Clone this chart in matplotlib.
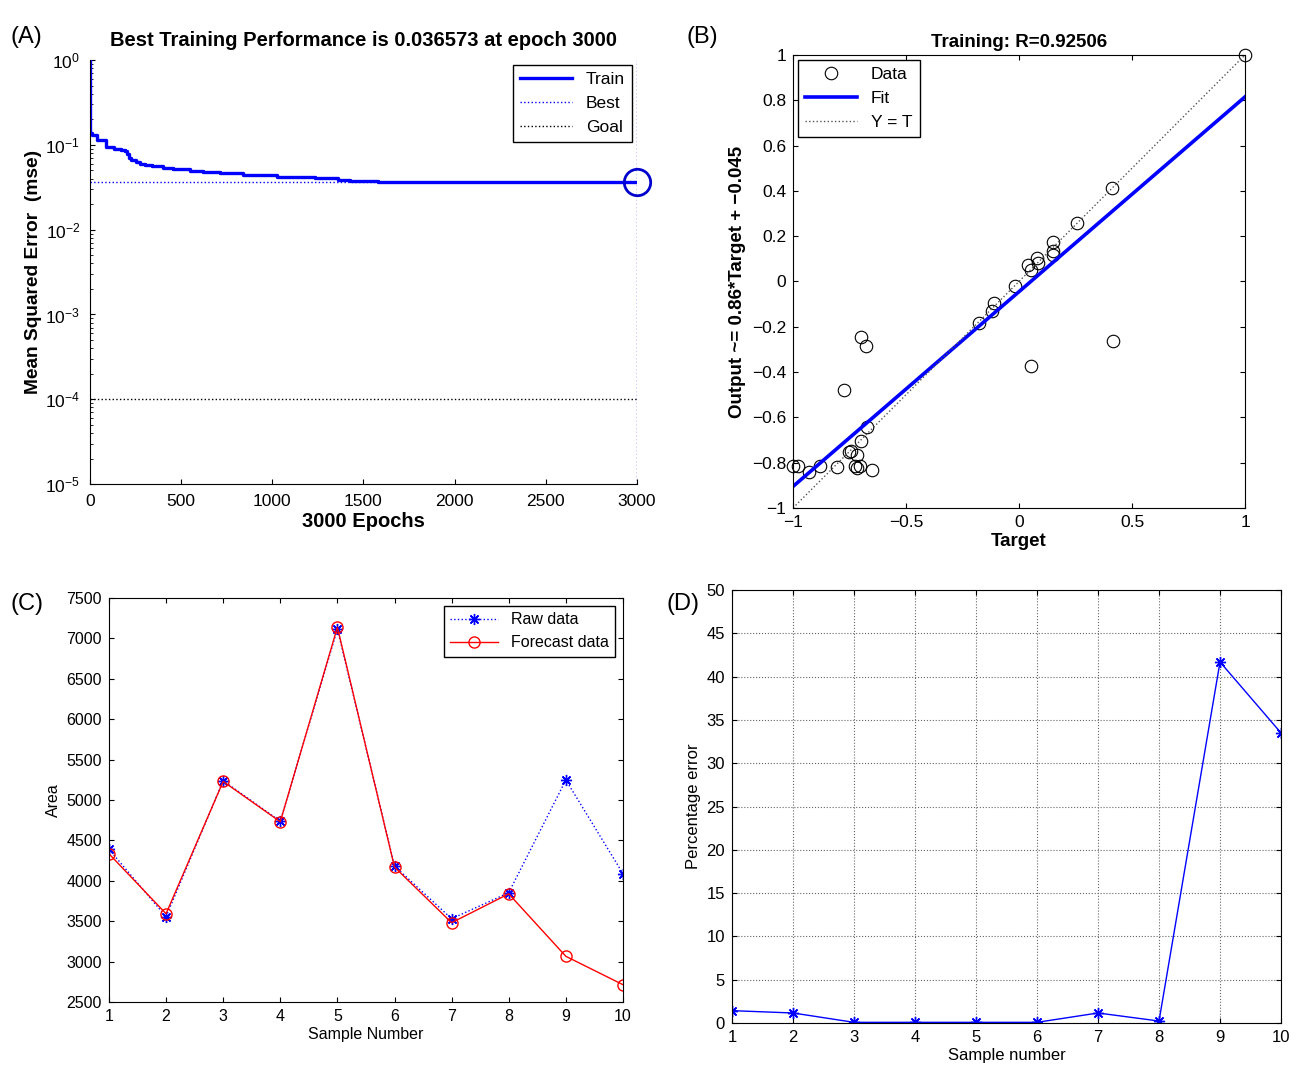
import numpy as np
import matplotlib
matplotlib.use("Agg")
import matplotlib.pyplot as plt

plt.rcParams['font.family'] = ['Liberation Sans', 'DejaVu Sans']
plt.rcParams['xtick.direction'] = 'in'
plt.rcParams['ytick.direction'] = 'in'
plt.rcParams['axes.linewidth'] = 0.8

# === (A) training performance ===
train_epochs = [0, 2, 10, 40, 88, 130, 169, 190, 203, 215, 226, 250, 273, 300,
                342, 400, 458, 550, 620, 712, 840, 1024, 1232, 1359, 1428, 1578, 3000]
train_mse = [1.0, 0.139, 0.13, 0.115, 0.095, 0.09, 0.087, 0.085, 0.078, 0.070,
             0.066, 0.062, 0.060, 0.058, 0.056, 0.054, 0.052, 0.049, 0.048,
             0.046, 0.044, 0.042, 0.041, 0.039, 0.0375, 0.036573, 0.036573]
best_epoch = 3000
best_mse = 0.036573
goal_mse = 1e-4

# === (B) regression ===
target = [1.0, 0.41, 0.256, 0.151, 0.151, 0.151, 0.078, 0.082, 0.042, 0.053,
          -0.019, -0.109, -0.120, -0.178, -0.700, -0.678, -0.776, -0.671,
          -0.700, -0.753, -0.743, -0.715, -0.725, -0.704, -0.718, -0.651,
          -0.805, -0.879, -0.930, -0.978, -1.0, 0.415, 0.053]
output = [1.0, 0.412, 0.257, 0.175, 0.134, 0.115, 0.104, 0.080, 0.074, 0.050,
          -0.020, -0.096, -0.130, -0.183, -0.243, -0.284, -0.480, -0.644,
          -0.703, -0.752, -0.747, -0.767, -0.816, -0.815, -0.823, -0.834,
          -0.818, -0.815, -0.842, -0.815, -0.815, -0.262, -0.371]
fit_slope = 0.86
fit_intercept = -0.045

# === (C) raw vs forecast ===
samples = list(range(1, 11))
raw_area = [4390, 3555, 5238, 4736, 7115, 4182, 3530, 3852, 5247, 4088]
forecast_area = [4334, 3592, 5229, 4730, 7137, 4169, 3481, 3838, 3065, 2714]

# === (D) percentage error ===
pct_error = [1.43, 1.16, 0.08, 0.08, 0.08, 0.08, 1.16, 0.23, 41.7, 33.5]

asterisk = (8, 2, 0)   # MATLAB style '*'

def minus(v):
    return ('\u2212' + f'{abs(v):g}') if v < 0 else f'{abs(v):g}'

fig = plt.figure(figsize=(13, 10.69), dpi=100)

# ---------- A ----------
axA = fig.add_axes([0.0692, 0.5472, 0.4208, 0.3966])
axA.semilogy(train_epochs, train_mse, color='#0000ff', lw=2.4,
             drawstyle='steps-post', label='Train')
axA.plot([0, best_epoch], [best_mse, best_mse], ':', color='#0000ff', lw=1, label='Best')
axA.plot([best_epoch, best_epoch], [1e-5, 1], ':', color='#0000ff', lw=1)
axA.plot([0, best_epoch], [goal_mse, goal_mse], ':', color='k', lw=1, label='Goal')
axA.plot([best_epoch], [best_mse], 'o', ms=19, mfc='none', mec='#0000cc', mew=2, clip_on=False)
axA.set_xlim(0, 3000)
axA.set_ylim(1e-5, 1)
axA.set_xticks(np.arange(0, 3001, 500))
axA.set_yticks([1e-5, 1e-4, 1e-3, 1e-2, 1e-1, 1])
axA.spines['top'].set_visible(False)
axA.spines['right'].set_visible(False)
axA.tick_params(labelsize=12.5, pad=7)
axA.tick_params(which='minor', length=2)
axA.set_title('Best Training Performance is 0.036573 at epoch 3000',
              fontsize=14.5, fontweight='bold', pad=10)
axA.set_xlabel('3000 Epochs', fontsize=14.5, fontweight='bold', labelpad=2)
axA.set_ylabel('Mean Squared Error  (mse)', fontsize=13.8, fontweight='bold', labelpad=2)
axA.legend(loc='upper right', fontsize=12.5, fancybox=False, edgecolor='k',
           framealpha=1, handlelength=3, borderaxespad=0.3)

# ---------- B ----------
axB = fig.add_axes([0.61, 0.5248, 0.3477, 0.4238])
axB.plot(target, output, 'o', ms=9, mfc='none', mec='k', mew=0.8, label='Data',
         clip_on=False)
fit_x = np.array([-1.0, 1.0])
axB.plot(fit_x, fit_slope * fit_x + fit_intercept, color='#0000ff', lw=2.6, label='Fit')
axB.plot([-1, 1], [-1, 1], ':', color='#555555', lw=1, label='Y = T')
axB.set_xlim(-1, 1)
axB.set_ylim(-1, 1)
xb = [-1, -0.5, 0, 0.5, 1]
axB.set_xticks(xb)
axB.set_xticklabels([minus(v) for v in xb])
yb = [-1, -0.8, -0.6, -0.4, -0.2, 0, 0.2, 0.4, 0.6, 0.8, 1]
axB.set_yticks(yb)
axB.set_yticklabels([minus(v) for v in yb])
axB.tick_params(labelsize=12.5, top=True, right=True, pad=5)
axB.set_title('Training: R=0.92506', fontsize=13.5, fontweight='bold', pad=6)
axB.set_xlabel('Target', fontsize=13.5, fontweight='bold', labelpad=2)
axB.set_ylabel('Output ~= 0.86*Target + \u22120.045', fontsize=13.5, fontweight='bold')
axB.legend(loc='upper left', fontsize=12.5, fancybox=False, edgecolor='k',
           framealpha=1, handlelength=3, borderaxespad=0.3)

# ---------- C ----------
axC = fig.add_axes([0.0838, 0.0627, 0.3954, 0.378])
axC.plot(samples, raw_area, ':', color='#0000ff', marker=asterisk, ms=8, mew=1,
         lw=1, label='Raw data')
axC.plot(samples, forecast_area, '-', color='#ff0000', marker='o', ms=8, mfc='none',
         lw=1, label='Forecast data')
axC.set_xlim(1, 10)
axC.set_ylim(2500, 7500)
axC.set_xticks(samples)
axC.set_yticks(np.arange(2500, 7501, 500))
axC.tick_params(labelsize=11.5, top=True, right=True, pad=5)
axC.set_xlabel('Sample Number', fontsize=11.5, labelpad=2)
axC.set_ylabel('Area', fontsize=11.5)
axC.legend(loc='upper right', fontsize=11.5, fancybox=False, edgecolor='k',
           framealpha=1, handlelength=3, borderaxespad=0.5)

# ---------- D ----------
axD = fig.add_axes([0.5631, 0.043, 0.4223, 0.405])
axD.plot(samples, pct_error, '-', color='#0000ff', marker=asterisk, ms=8, mew=1, lw=1)
axD.set_xlim(1, 10)
axD.set_ylim(0, 50)
axD.set_xticks(samples)
axD.set_yticks(np.arange(0, 51, 5))
axD.grid(True, linestyle=':', color='#666666', lw=0.8)
axD.tick_params(labelsize=12, top=True, right=True, pad=5)
axD.set_xlabel('Sample number', fontsize=12, labelpad=2)
axD.set_ylabel('Percentage error', fontsize=12)

# panel letters
for lbl, x, y in [('(A)', 0.008, 0.965), ('(B)', 0.528, 0.965),
                  ('(C)', 0.008, 0.435), ('(D)', 0.513, 0.435)]:
    fig.text(x, y, lbl, fontsize=17, ha='left', va='center')

fig.savefig('out.png', dpi=100)
